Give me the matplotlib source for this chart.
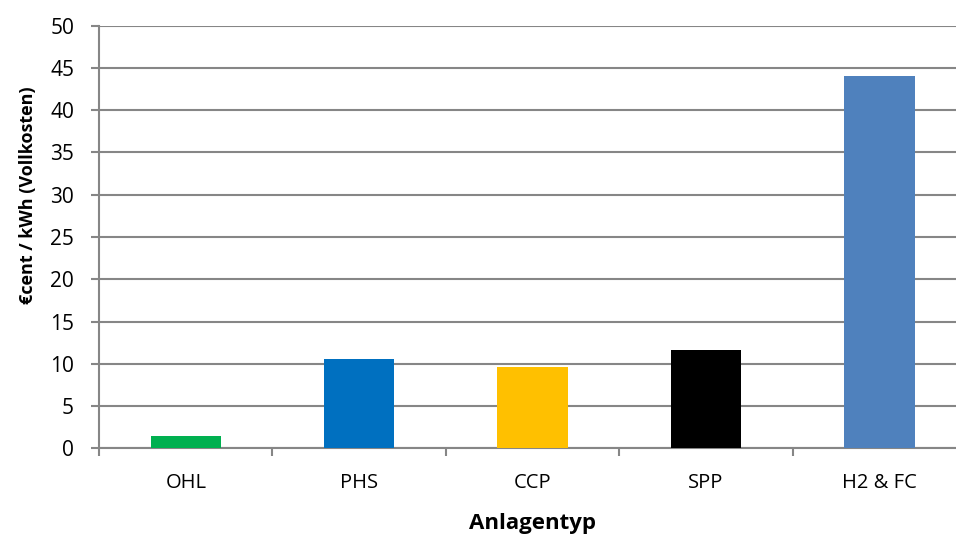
import matplotlib
matplotlib.use("Agg")
import matplotlib.pyplot as plt
import numpy as np

# Vollkosten je Anlagentyp
anlagen = ["OHL", "PHS", "CCP", "SPP", "H2 & FC"]
kosten = [1.46, 10.6, 9.65, 11.65, 44.1]
farben = ["#00B050", "#0070C0", "#FFC000", "#000000", "#4F81BD"]
y_ticks = list(range(0, 51, 5))

plt.rcParams["font.family"] = ["Open Sans", "DejaVu Sans"]
grau = "#868686"

fig = plt.figure(figsize=(9.56, 5.34), dpi=100)
ax = fig.add_axes([0.1036, 0.1605, 0.907, 0.7914])

x = np.arange(len(anlagen))
ax.bar(x, kosten, width=0.405, color=farben, zorder=3)

ax.set_xlim(-0.5, len(anlagen) - 0.5)
ax.set_ylim(0, 50)
ax.set_yticks(y_ticks)
ax.set_yticklabels([str(t) for t in y_ticks], fontsize=15)
ax.yaxis.grid(True, color=grau, linewidth=1.5, zorder=0)

# Kategorienamen mittig, Striche an den Grenzen
ax.set_xticks(x)
ax.set_xticklabels(anlagen, fontsize=14.5)
ax.set_xticks(np.arange(-0.5, len(anlagen), 1), minor=True)
ax.tick_params(axis="x", which="major", length=0, pad=18)
ax.tick_params(axis="x", which="minor", length=6, width=1.5, color=grau, direction="out")
ax.tick_params(axis="y", length=6, width=1.5, color=grau, direction="out", pad=12)

for side in ["top", "right"]:
    ax.spines[side].set_visible(False)
for side in ["left", "bottom"]:
    ax.spines[side].set_color(grau)
    ax.spines[side].set_linewidth(1.5)

ax.set_ylabel("€cent / kWh (Vollkosten)", fontsize=13, fontweight="bold")
ax.yaxis.set_label_coords(-0.0715, 0.6)
ax.set_xlabel("Anlagentyp", fontsize=16, fontweight="bold")
ax.xaxis.set_label_coords(0.5, -0.152)

fig.savefig("out.png", dpi=100, facecolor="white")
